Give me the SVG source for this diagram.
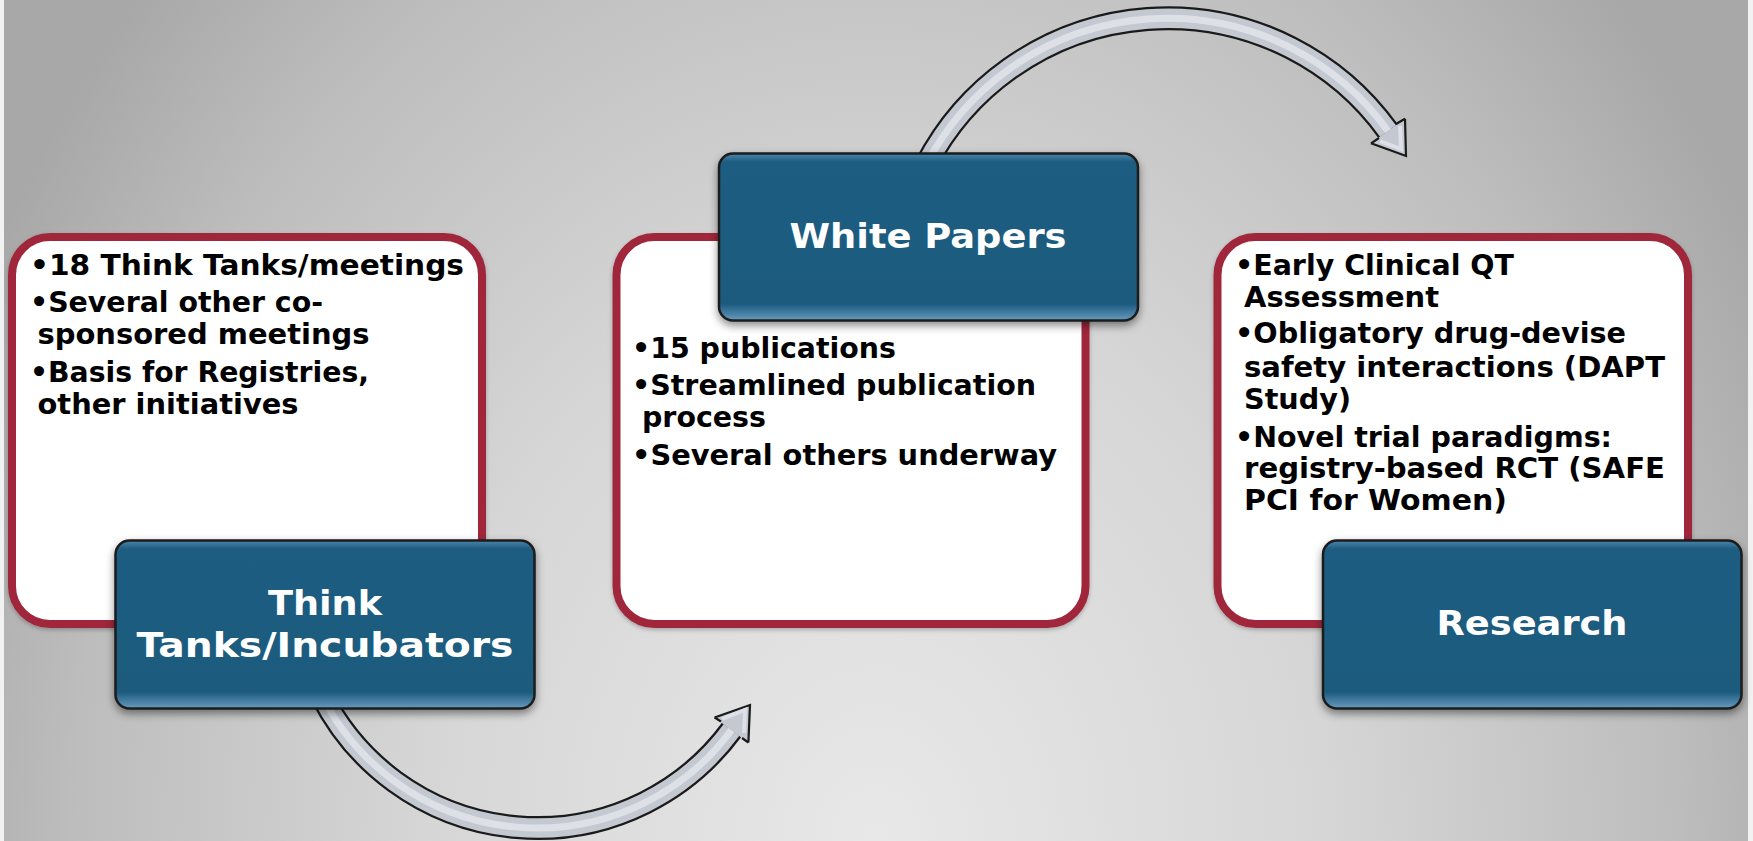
<svg xmlns="http://www.w3.org/2000/svg" width="1753" height="841" viewBox="0 0 1753 841">
  <defs>
    <radialGradient id="bg" gradientUnits="userSpaceOnUse" cx="876" cy="841" r="1000" gradientTransform="translate(876 841) scale(1 1.25) translate(-876 -841)">
      <stop offset="0" stop-color="#e8e8e8"/>
      <stop offset="0.45" stop-color="#d6d6d6"/>
      <stop offset="0.8" stop-color="#bdbdbd"/>
      <stop offset="1" stop-color="#a8a8a8"/>
    </radialGradient>
    <linearGradient id="blueFill" x1="0" y1="0" x2="0" y2="1">
      <stop offset="0" stop-color="#4a86ab"/>
      <stop offset="0.05" stop-color="#1f5d81"/>
      <stop offset="0.9" stop-color="#1c5a7e"/>
      <stop offset="0.97" stop-color="#4f87ab"/>
      <stop offset="1" stop-color="#6c9dbd"/>
    </linearGradient>
    <linearGradient id="edgeGlow" x1="0" y1="0" x2="0" y2="1">
      <stop offset="0" stop-color="#e6f6ff"/>
      <stop offset="0.15" stop-color="#9fd0ef"/>
      <stop offset="0.85" stop-color="#8cc2e4"/>
      <stop offset="1" stop-color="#d8effc"/>
    </linearGradient>
    <filter id="shadow" x="-10%" y="-10%" width="120%" height="130%">
      <feDropShadow dx="0" dy="4" stdDeviation="4" flood-color="#000" flood-opacity="0.45"/>
    </filter>
    <filter id="softShadow" x="-5%" y="-5%" width="110%" height="115%">
      <feDropShadow dx="0" dy="2" stdDeviation="2" flood-color="#000" flood-opacity="0.25"/>
    </filter>
    <style>
      .panel { fill: #ffffff; stroke: #a0283a; stroke-width: 8; }
      .tab { fill: url(#blueFill); stroke: #1b1b1b; stroke-width: 2.5; }
      .glow { stroke: url(#edgeGlow); stroke-width: 4; stroke-linecap: round; fill: none; }
      .bullet { font-family: "DejaVu Sans", Verdana, sans-serif; font-weight: bold; font-size: 28px; fill: #000000; }
      .title { font-family: "DejaVu Sans", Verdana, sans-serif; font-weight: bold; font-size: 34px; fill: #ffffff; text-anchor: middle; }
      .shaft-edge { fill: none; stroke: #1a1a1a; stroke-width: 24; }
      .shaft { fill: none; stroke: #c3c8d1; stroke-width: 19.5; }
      .shaft-hi { fill: none; stroke: #dde1e7; stroke-width: 7; }
      .head { fill: #c3c8d1; stroke: none; }
      .head-edge { fill: none; stroke: #1a1a1a; stroke-width: 2.2; stroke-linejoin: miter; }
    </style>
  </defs>

  <!-- backdrop -->
  <rect x="0" y="0" width="1753" height="841" fill="url(#bg)"/>
  <rect x="0" y="0" width="4" height="841" fill="#f2f2f2"/>
  <rect x="1748" y="0" width="5" height="841" fill="#f2f2f2"/>

  <!-- curved arrows -->
  <g id="connectors">
    <g id="arrow-bottom">
      <path class="shaft-edge" d="M 321.5 695 A 241.5 241.5 0 0 0 731.5 730"/>
      <path class="shaft" d="M 321.5 695 A 241.5 241.5 0 0 0 731.5 730"/>
      <path class="shaft-hi" d="M 321.5 695 A 241.5 241.5 0 0 0 731.5 730"/>
      <polygon class="head" points="714.6,717.5 750,705 748.4,742.5"/>
      <polyline class="head-edge" points="714.6,717.5 750,705 748.4,742.5"/>
      <path d="M 722 719 L 745 710 L 744 733" fill="none" stroke="#dde1e7" stroke-width="4"/>
      <path d="M 714.6 717.5 L 721 721.5 M 748.4 742.5 L 742 738" stroke="#1a1a1a" stroke-width="2.2"/>
    </g>
    <g id="arrow-top">
      <path class="shaft-edge" d="M 926 165 A 272 272 0 0 1 1388 131"/>
      <path class="shaft" d="M 926 165 A 272 272 0 0 1 1388 131"/>
      <path class="shaft-hi" d="M 926 165 A 272 272 0 0 1 1388 131"/>
      <polygon class="head" points="1405,118.7 1406,156 1371,143.3"/>
      <polyline class="head-edge" points="1405,118.7 1406,156 1371,143.3"/>
      <path d="M 1400 126 L 1401 149 L 1380 141" fill="none" stroke="#dde1e7" stroke-width="4"/>
      <path d="M 1405 118.7 L 1396 124 M 1371 143.3 L 1379 138" stroke="#1a1a1a" stroke-width="2.2"/>
    </g>
  </g>

  <!-- Think Tanks / Incubators -->
  <g id="node-think-tanks">
    <rect class="panel" x="12" y="237" width="470" height="387" rx="38" filter="url(#softShadow)"/>
    <text class="bullet" x="30" y="275" textLength="434" lengthAdjust="spacingAndGlyphs">•18 Think Tanks/meetings</text>
    <text class="bullet" x="30" y="312" textLength="293" lengthAdjust="spacingAndGlyphs">•Several other co-</text>
    <text class="bullet" x="37.5" y="344" textLength="332" lengthAdjust="spacingAndGlyphs">sponsored meetings</text>
    <text class="bullet" x="30" y="382" textLength="339" lengthAdjust="spacingAndGlyphs">•Basis for Registries,</text>
    <text class="bullet" x="37.5" y="414" textLength="261" lengthAdjust="spacingAndGlyphs">other initiatives</text>
    <rect class="tab" x="115.5" y="540.5" width="419" height="168" rx="14" filter="url(#shadow)"/>
    <line class="glow" x1="128" y1="555" x2="128" y2="694"/>
    <line class="glow" x1="522" y1="555" x2="522" y2="694"/>
    <text class="title" x="325" y="615" textLength="114" lengthAdjust="spacingAndGlyphs">Think</text>
    <text class="title" x="325" y="657" textLength="377" lengthAdjust="spacingAndGlyphs">Tanks/Incubators</text>
  </g>

  <!-- White Papers -->
  <g id="node-white-papers">
    <rect class="panel" x="616.5" y="237" width="469" height="387" rx="38" filter="url(#softShadow)"/>
    <text class="bullet" x="632" y="358" textLength="264" lengthAdjust="spacingAndGlyphs">•15 publications</text>
    <text class="bullet" x="632" y="395" textLength="404" lengthAdjust="spacingAndGlyphs">•Streamlined publication</text>
    <text class="bullet" x="642" y="427" textLength="124" lengthAdjust="spacingAndGlyphs">process</text>
    <text class="bullet" x="632" y="465" textLength="425" lengthAdjust="spacingAndGlyphs">•Several others underway</text>
    <rect class="tab" x="719" y="153.5" width="419" height="167" rx="14" filter="url(#shadow)"/>
    <line class="glow" x1="731.5" y1="168" x2="731.5" y2="306"/>
    <line class="glow" x1="1125.5" y1="168" x2="1125.5" y2="306"/>
    <text class="title" x="928" y="248" font-size="35" textLength="277" lengthAdjust="spacingAndGlyphs">White Papers</text>
  </g>

  <!-- Research -->
  <g id="node-research">
    <rect class="panel" x="1217.5" y="237" width="470.5" height="387" rx="38" filter="url(#softShadow)"/>
    <text class="bullet" x="1235" y="275" textLength="279" lengthAdjust="spacingAndGlyphs">•Early Clinical QT</text>
    <text class="bullet" x="1244" y="307" textLength="195" lengthAdjust="spacingAndGlyphs">Assessment</text>
    <text class="bullet" x="1235" y="343" textLength="391" lengthAdjust="spacingAndGlyphs">•Obligatory drug-devise</text>
    <text class="bullet" x="1244" y="377" textLength="421" lengthAdjust="spacingAndGlyphs">safety interactions (DAPT</text>
    <text class="bullet" x="1244" y="409" textLength="107" lengthAdjust="spacingAndGlyphs">Study)</text>
    <text class="bullet" x="1235" y="447" textLength="377" lengthAdjust="spacingAndGlyphs">•Novel trial paradigms:</text>
    <text class="bullet" x="1244" y="478" textLength="421" lengthAdjust="spacingAndGlyphs">registry-based RCT (SAFE</text>
    <text class="bullet" x="1244" y="510" textLength="263" lengthAdjust="spacingAndGlyphs">PCI for Women)</text>
    <rect class="tab" x="1323" y="540.5" width="418.5" height="168" rx="14" filter="url(#shadow)"/>
    <line class="glow" x1="1335.5" y1="555" x2="1335.5" y2="694"/>
    <line class="glow" x1="1729" y1="555" x2="1729" y2="694"/>
    <text class="title" x="1532" y="635" textLength="191" lengthAdjust="spacingAndGlyphs">Research</text>
  </g>
</svg>
